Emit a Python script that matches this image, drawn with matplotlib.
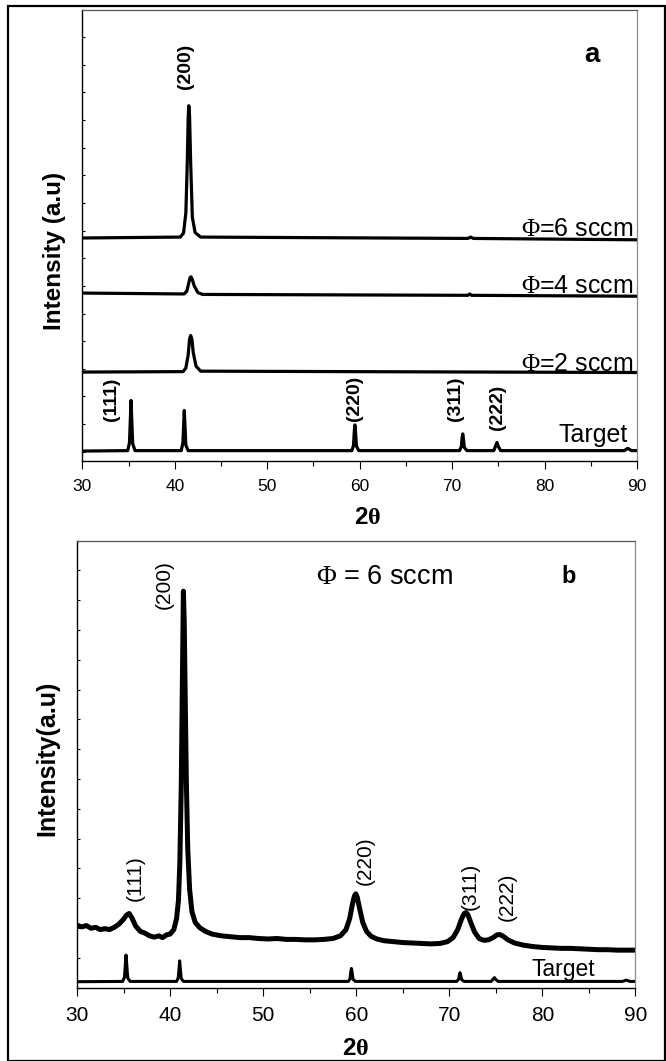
import numpy as np
import matplotlib
matplotlib.use("Agg")
import matplotlib.pyplot as plt
from matplotlib.patches import Rectangle
from matplotlib.ticker import MultipleLocator

plt.rcParams['font.family'] = ['Liberation Sans', 'DejaVu Sans']
plt.rcParams['mathtext.fontset'] = 'custom'
plt.rcParams['mathtext.rm'] = 'Liberation Serif'
plt.rcParams['mathtext.it'] = 'Liberation Serif:italic'
plt.rcParams['mathtext.bf'] = 'Liberation Serif:bold'

# ---- panel a: stacked patterns (arbitrary units, offset) ----
target_a = [(30, 2.2), (34.9, 2.3), (35.1, 4.0), (35.2, 9.5), (35.27, 13.4), (35.35, 9.0), (35.45, 3.8), (35.7, 2.3),
            (40.7, 2.3), (40.88, 4.0), (40.97, 8.5), (41.03, 11.2), (41.1, 8.0), (41.2, 3.5), (41.45, 2.3),
            (59.15, 2.3), (59.33, 3.4), (59.42, 6.6), (59.48, 8.0), (59.55, 6.5), (59.65, 3.3), (59.9, 2.3),
            (70.8, 2.3), (71.0, 3.2), (71.08, 5.2), (71.15, 6.0), (71.22, 5.0), (71.32, 3.0), (71.6, 2.3),
            (74.5, 2.3), (74.7, 3.3), (74.85, 4.1), (75.0, 3.2), (75.25, 2.3),
            (88.6, 2.3), (89.0, 2.8), (89.4, 2.3), (90, 2.3)]
phi2 = [(30, 19.7), (40.9, 19.8), (41.2, 20.6), (41.45, 23.5), (41.6, 27.0), (41.72, 27.8), (41.85, 27.0),
        (42.0, 24.0), (42.3, 21.0), (42.8, 19.9), (90, 19.6)]
phi4 = [(30, 37.2), (41.0, 37.0), (41.3, 37.6), (41.5, 39.3), (41.65, 40.6), (41.75, 40.8), (41.9, 40.2),
        (42.1, 38.8), (42.5, 37.3), (43.0, 36.9), (71.7, 36.7), (71.9, 37.0), (72.1, 36.7), (90, 36.5)]
phi6 = [(30, 49.4), (40.6, 49.6), (40.95, 50.5), (41.2, 55.0), (41.35, 66.0), (41.45, 76.0), (41.52, 78.7),
        (41.6, 76.5), (41.72, 66.0), (41.9, 54.0), (42.2, 50.6), (42.8, 49.6), (71.7, 49.3), (72.0, 49.6),
        (72.3, 49.3), (90, 49.0)]

labels_a = ["(200)", "(111)", "(220)", "(311)", "(222)"]
labels_a_x = [41.15, 33.2, 59.45, 70.4, 74.9]
labels_a_y = [87.5, 13.6, 13.9, 13.7, 11.9]

# ---- panel b: film at 6 sccm + target ----
film_b = [(30, 14.0), (30.5, 13.6), (31, 13.9), (31.5, 13.3), (32, 13.5), (32.5, 13.0), (33, 13.2), (33.5, 13.0),
          (34, 13.5), (34.5, 14.2), (35, 15.3), (35.3, 16.2), (35.6, 16.6), (35.9, 15.6), (36.3, 13.8),
          (36.8, 12.6), (37.3, 12.2), (37.8, 11.6), (38.3, 11.3), (38.8, 11.6), (39.2, 11.2), (39.6, 11.8),
          (40.0, 12.0), (40.4, 13.0), (40.7, 15.5), (40.9, 19.5), (41.05, 28.0), (41.2, 45.0), (41.32, 68.0),
          (41.43, 88.7), (41.52, 82.0), (41.62, 66.0), (41.75, 46.0), (41.9, 31.0), (42.1, 22.0), (42.35, 17.0),
          (42.7, 14.6), (43.2, 13.4), (43.8, 12.6), (44.5, 12.0), (45.5, 11.6), (46.5, 11.4), (47.5, 11.2),
          (48.5, 11.2), (49.5, 11.0), (50.5, 10.9), (51.5, 11.0), (52.5, 10.8), (53.5, 10.8), (54.5, 10.7),
          (55.5, 10.7), (56.5, 10.8), (57.5, 11.0), (58.3, 11.6), (58.9, 13.0), (59.3, 15.5), (59.6, 18.8),
          (59.8, 20.5), (59.95, 21.0), (60.1, 20.3), (60.35, 17.8), (60.7, 14.6), (61.1, 12.6), (61.6, 11.5),
          (62.2, 10.9), (63, 10.5), (64, 10.3), (65, 10.1), (66, 10.0), (67, 9.9), (68, 9.8), (69, 9.9),
          (69.8, 10.3), (70.4, 11.2), (70.9, 13.0), (71.3, 15.3), (71.6, 16.6), (71.8, 16.8), (72.0, 16.3),
          (72.3, 14.6), (72.7, 12.5), (73.2, 11.0), (73.7, 10.6), (74.2, 10.7), (74.7, 11.2), (75.1, 11.8),
          (75.4, 11.9), (75.8, 11.5), (76.3, 10.7), (77, 10.0), (78, 9.5), (79, 9.2), (80, 9.0), (81, 8.9),
          (82, 8.8), (83, 8.8), (84, 8.7), (85, 8.6), (86, 8.5), (87, 8.5), (88, 8.4), (89, 8.4), (90, 8.4)]
target_b = [(30, 1.34), (34.9, 1.4), (35.1, 2.3), (35.2, 5.3), (35.27, 7.3), (35.35, 5.0), (35.45, 2.2), (35.7, 1.4),
            (40.7, 1.4), (40.88, 2.3), (40.97, 4.4), (41.03, 6.0), (41.1, 4.2), (41.2, 2.0), (41.45, 1.4),
            (59.15, 1.4), (59.33, 2.0), (59.42, 3.6), (59.48, 4.3), (59.55, 3.5), (59.65, 1.9), (59.9, 1.4),
            (70.8, 1.4), (71.0, 1.9), (71.08, 2.9), (71.15, 3.35), (71.22, 2.8), (71.32, 1.8), (71.6, 1.4),
            (74.5, 1.4), (74.7, 1.9), (74.85, 2.25), (75.0, 1.8), (75.25, 1.4),
            (88.6, 1.4), (89.0, 1.7), (89.4, 1.4), (90, 1.4)]

labels_b = ["(200)", "(111)", "(220)", "(311)", "(222)"]
labels_b_x = [39.4, 36.3, 61.0, 72.2, 76.2]
labels_b_y = [90.2, 24.6, 28.3, 22.7, 20.4]


def xy(pts):
    x, y = zip(*pts)
    return np.array(x), np.array(y)


def style_axes(ax, ytick_pos, xfs):
    ax.set_xlim(30, 90)
    ax.set_ylim(0, 100)
    ax.xaxis.set_major_locator(MultipleLocator(10))
    ax.xaxis.set_minor_locator(MultipleLocator(5))
    ax.tick_params(axis='x', which='major', direction='out', length=6, width=0.8,
                   labelsize=xfs, pad=7, top=False)
    ax.tick_params(axis='x', which='minor', direction='out', length=3.6, width=0.8, top=False)
    ax.set_yticks(ytick_pos)
    ax.tick_params(axis='y', which='major', direction='in', length=2.5, width=0.8,
                   labelleft=False, right=False)
    ax.spines['left'].set_color('black')
    ax.spines['left'].set_linewidth(1.0)
    ax.spines['bottom'].set_color('black')
    ax.spines['bottom'].set_linewidth(1.0)
    ax.spines['top'].set_color('#555555')
    ax.spines['top'].set_linewidth(0.9)
    ax.spines['right'].set_color('#8a8a8a')
    ax.spines['right'].set_linewidth(0.9)


fig = plt.figure(figsize=(6.66, 10.61), dpi=100)
axa = fig.add_axes([0.1236, 0.5655, 0.8329, 0.4255])
axb = fig.add_axes([0.1156, 0.0691, 0.8386, 0.4213])

# panel a
for pts in (target_a, phi2, phi4, phi6):
    x, y = xy(pts)
    axa.plot(x, y, color='black', lw=2.3, solid_joinstyle='round')
style_axes(axa, np.linspace(2.06, 100, 17), 12.5)

for s, x, y in zip(labels_a, labels_a_x, labels_a_y):
    axa.text(x, y, s, rotation=90, ha='center', va='center', fontsize=14, fontweight='bold')

axa.text(89.6, 49.8, r'$\Phi$=6 sccm', ha='right', va='baseline', fontsize=18)
axa.text(89.6, 37.3, r'$\Phi$=4 sccm', ha='right', va='baseline', fontsize=18)
axa.text(89.6, 20.0, r'$\Phi$=2 sccm', ha='right', va='baseline', fontsize=18)
axa.text(89.0, 4.3, 'Target', ha='right', va='baseline', fontsize=18)
axa.text(85.1, 90.0, 'a', ha='center', va='center', fontsize=20, fontweight='bold')

axa.set_xlabel(r'2$\mathbf{\theta}$', fontsize=17.5, fontweight='bold')
axa.xaxis.set_label_coords(0.515, -0.126)
axa.xaxis.label.set_va('center')
axa.set_ylabel('Intensity (a.u)', fontsize=17.5, fontweight='bold')
axa.yaxis.set_label_coords(-0.051, 0.465)
axa.yaxis.label.set_va('center')

# panel b
x, y = xy(film_b)
axb.plot(x, y, color='black', lw=3.6, solid_joinstyle='round')
x, y = xy(target_b)
axb.plot(x, y, color='black', lw=2.2, solid_joinstyle='round')
style_axes(axb, np.linspace(0, 100, 16), 15)

for s, x, y in zip(labels_b, labels_b_x, labels_b_y):
    axb.text(x, y, s, rotation=90, ha='center', va='center', fontsize=15)

axb.text(55.7, 91.9, r'$\Phi$ = 6 sccm', ha='left', va='center', fontsize=19.5)
axb.text(82.8, 92.0, 'b', ha='center', va='center', fontsize=17, fontweight='bold')
axb.text(85.7, 2.6, 'Target', ha='right', va='baseline', fontsize=16.5)

axb.set_xlabel(r'2$\mathbf{\theta}$', fontsize=17.5, fontweight='bold')
axb.xaxis.set_label_coords(0.499, -0.135)
axb.xaxis.label.set_va('center')
axb.set_ylabel('Intensity(a.u)', fontsize=18, fontweight='bold')
axb.yaxis.set_label_coords(-0.0525, 0.514)
axb.yaxis.label.set_va('center')

# outer frame around the whole figure
fig.patches.append(Rectangle((8 / 666, 0.5 / 1061), 656.5 / 666, 1055 / 1061,
                             transform=fig.transFigure, fill=False, edgecolor='black', lw=1.6))

fig.savefig('out.png', dpi=100)
